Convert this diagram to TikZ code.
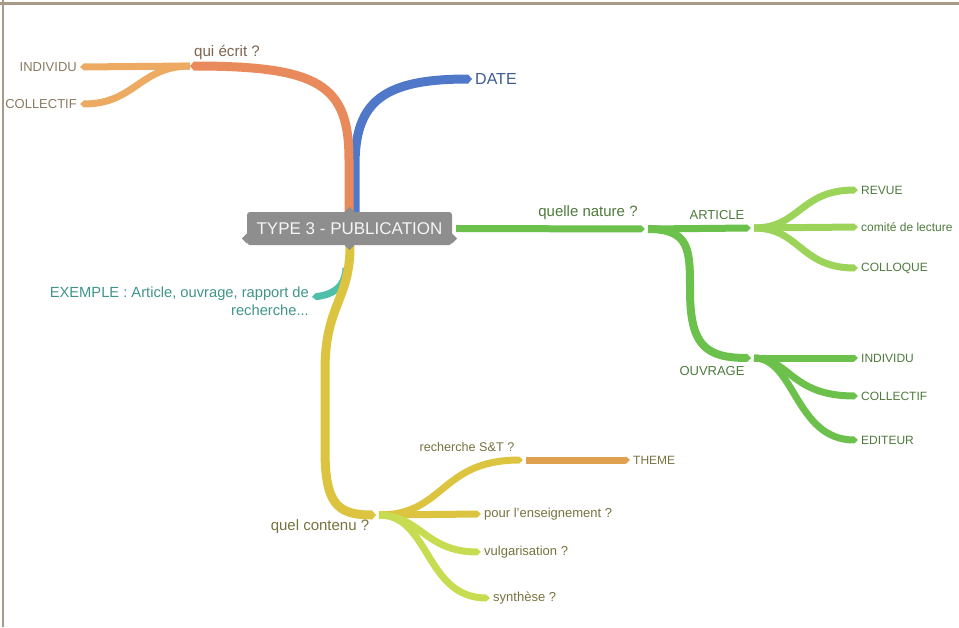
\documentclass[tikz,border=0pt]{standalone}
\usepackage{fontspec}
\setmainfont{Liberation Sans}
\usetikzlibrary{arrows.meta}
\definecolor{frame}{HTML}{A89A8A}
\definecolor{cgray}{HTML}{8E8E8E}
\definecolor{corange}{HTML}{E88A5C}
\definecolor{corange2}{HTML}{ECAA62}
\definecolor{cblue}{HTML}{5078C8}
\definecolor{cgreen}{HTML}{6CC04C}
\definecolor{cgreen2}{HTML}{9CD45A}
\definecolor{cyellow}{HTML}{DCC440}
\definecolor{clime}{HTML}{C8DC52}
\definecolor{cteal}{HTML}{4EC0AA}
\definecolor{ctheme}{HTML}{DFA050}
\definecolor{tbrown}{HTML}{7E6450}
\definecolor{ttaupe}{HTML}{8A7A62}
\definecolor{tblue}{HTML}{3E5C92}
\definecolor{tgreen}{HTML}{4E7A3C}
\definecolor{tteal}{HTML}{3F948A}
\definecolor{tolive}{HTML}{77723E}
\tikzset{
  br/.style={line width=#1, line cap=butt, -{Triangle[length=4pt,width=0pt 1]}},
  br/.default=7pt,
  lbl/.style={inner sep=1pt, font=\fontsize{13}{15}\selectfont},
  sml/.style={inner sep=1pt, font=\fontsize{12}{14}\selectfont},
}
\begin{document}
\begin{tikzpicture}[x=1pt,y=-1pt]
\useasboundingbox (0,0) rectangle (959,627);
\draw[frame, line width=2.5pt] (0,3.5) -- (959,3.5);
\draw[frame, line width=2.5pt] (3,0) -- (3,627);

% coordinates
\coordinate (qw) at (190,66);
\coordinate (ind1) at (80,67);
\coordinate (col1) at (80,104);
\coordinate (dt) at (472,79);
\coordinate (qn) at (645,229);
\coordinate (art) at (751,228);
\coordinate (rev) at (858,190);
\coordinate (com) at (858,227);
\coordinate (clq) at (858,268);
\coordinate (ouv) at (751,358);
\coordinate (ind2) at (858,358);
\coordinate (col2) at (858,396);
\coordinate (edi) at (858,440);
\coordinate (qc) at (376,515);
\coordinate (rst) at (523,460);
\coordinate (thm) at (630,460);
\coordinate (ens) at (481,514);
\coordinate (vul) at (481,552);
\coordinate (syn) at (490,598);
\coordinate (exs) at (346,268);
\coordinate (exe) at (312,297);

% teal stub (behind yellow)
\draw[br=7pt, cteal] (exs) .. controls (345,288) and (332,295) .. (exe);

% blue
\draw[br=9pt, cblue] (355,212) -- (355,165) .. controls (355,100) and (385,79) .. (dt);
% orange
\draw[br=9pt, corange] (349,212) -- (349,160) .. controls (349,85) and (320,66) .. (qw);
\draw[br=7pt, corange2] (qw) -- (ind1);
\draw[br=7pt, corange2] (qw) .. controls (140,66) and (135,104) .. (col1);
% yellow
\draw[br=9pt, cyellow] (350,246) .. controls (350,300) and (325,305) .. (325,370) -- (325,450) .. controls (325,505) and (338,515) .. (qc);

% center node
\node[fill=cgray, rounded corners=3pt, minimum width=205pt, minimum height=33pt, inner sep=0pt,
      text=white!92!gray, font=\fontsize{17}{20}\selectfont] (ctr) at (349.5,228.5) {TYPE 3 - PUBLICATION};
\fill[cgray] ([xshift=-5pt]ctr.north) -- ++(5,-5) -- ++(5,5) -- cycle;
\fill[cgray] ([xshift=-5pt]ctr.south) -- ++(5,5) -- ++(5,-5) -- cycle;
\fill[cgray] ([yshift=-5pt]ctr.west) -- ++(-5,5) -- ++(5,5) -- cycle;
\fill[cgray] ([yshift=-5pt]ctr.east) -- ++(5,5) -- ++(-5,5) -- cycle;

% green
\draw[br=7pt, cgreen] (ctr.east) ++(4,0) -- (qn);
\draw[br=7pt, cgreen] ([xshift=3pt]qn) -- (art);
\draw[br=7pt, cgreen2] ([xshift=3pt]art) .. controls (800,228) and (800,190) .. (rev);
\draw[br=7pt, cgreen2] ([xshift=3pt]art) -- (com);
\draw[br=7pt, cgreen2] ([xshift=3pt]art) .. controls (800,228) and (800,268) .. (clq);
\draw[br=8pt, cgreen] ([xshift=3pt]qn) .. controls (690,229) and (690,250) .. (690,290) .. controls (690,345) and (705,358) .. (ouv);
\draw[br=7pt, cgreen] ([xshift=3pt]ouv) -- (ind2);
\draw[br=7pt, cgreen] ([xshift=3pt]ouv) .. controls (790,358) and (790,396) .. (col2);
\draw[br=7pt, cgreen] ([xshift=3pt]ouv) .. controls (795,358) and (795,440) .. (edi);

% yellow children
\draw[br=7pt, cyellow] ([xshift=3pt]qc) .. controls (445,515) and (440,460) .. (rst);
\draw[br=7pt, ctheme] ([xshift=3pt]rst) -- (thm);
\draw[br=7pt, cyellow] ([xshift=3pt]qc) -- (ens);
\draw[br=7pt, clime] ([xshift=3pt]qc) .. controls (420,515) and (425,552) .. (vul);
\draw[br=7pt, clime] ([xshift=3pt]qc) .. controls (430,515) and (425,598) .. (syn);

% labels
\node[inner sep=1pt, text=tbrown, font=\fontsize{15.2}{18}\selectfont] (tqw) at (227,52) {qui écrit ?};
\node[lbl, text=ttaupe, anchor=east] (tind1) at ([xshift=-2pt]ind1) {INDIVIDU};
\node[lbl, text=ttaupe, anchor=east] (tcol1) at ([xshift=-2pt]col1) {COLLECTIF};
\node[inner sep=1pt, text=tblue, anchor=west, font=\fontsize{16}{19}\selectfont] (tdt) at ([xshift=2pt]dt) {DATE};
\node[inner sep=1pt, text=tgreen, font=\fontsize{15}{18}\selectfont] (tqn) at (588,213) {quelle nature ?};
\node[lbl, text=tgreen] (tart) at (717,215) {ARTICLE};
\node[sml, text=tgreen, anchor=west] (trev) at ([xshift=2pt]rev) {REVUE};
\node[sml, text=tgreen, anchor=west] (tcom) at ([xshift=2pt]com) {comité de lecture};
\node[sml, text=tgreen, anchor=west] (tclq) at ([xshift=2pt]clq) {COLLOQUE};
\node[lbl, text=tgreen] (touv) at (712,371) {OUVRAGE};
\node[sml, text=tgreen, anchor=west] (tind2) at ([xshift=2pt]ind2) {INDIVIDU};
\node[sml, text=tgreen, anchor=west] (tcol2) at ([xshift=2pt]col2) {COLLECTIF};
\node[sml, text=tgreen, anchor=west] (tedi) at ([xshift=2pt]edi) {EDITEUR};
\node[inner sep=1pt, text=tteal, anchor=north east, align=right, font=\fontsize{14.7}{17.5}\selectfont] (tex) at (310,286) {EXEMPLE : Article, ouvrage, rapport de\\recherche...};
\node[inner sep=1pt, text=tolive, font=\fontsize{15}{18}\selectfont] (tqc) at (320,527) {quel contenu ?};
\node[lbl, text=tolive, font=\fontsize{12.6}{15}\selectfont] (trst) at (467,447) {recherche S\&T ?};
\node[sml, text=tolive, anchor=west] (tthm) at ([xshift=2pt]thm) {THEME};
\node[lbl, text=tolive, anchor=west] (tens) at ([xshift=2pt]ens) {pour l'enseignement ?};
\node[lbl, text=tolive, anchor=west] (tvul) at ([xshift=2pt]vul) {vulgarisation ?};
\node[lbl, text=tolive, anchor=west] (tsyn) at ([xshift=2pt]syn) {synthèse ?};
\end{tikzpicture}
\end{document}
